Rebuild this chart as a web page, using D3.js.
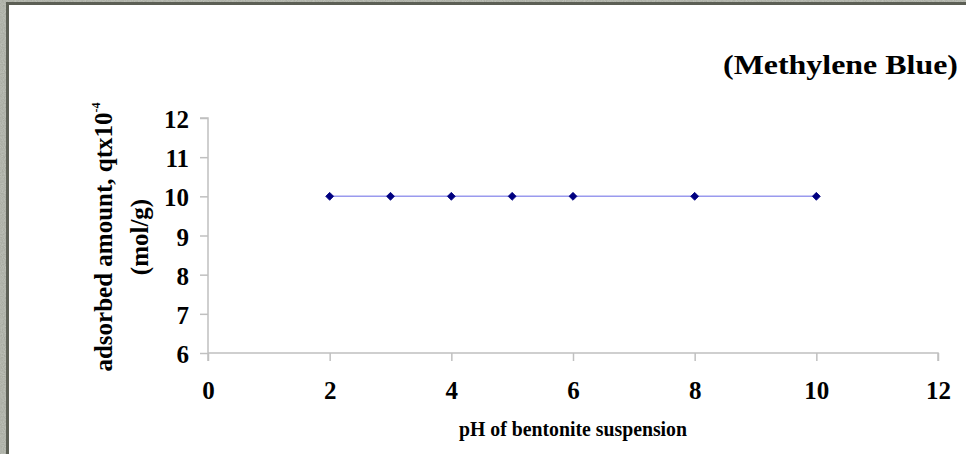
<!DOCTYPE html>
<html>
<head>
<meta charset="utf-8">
<script src="https://cdn.jsdelivr.net/npm/d3@7"></script>
<style>
  html, body { margin: 0; padding: 0; background: #8b8e82; }
  svg { display: block; }
</style>
</head>
<body>
<svg id="chart" width="966" height="454"></svg>
<script>
// pH of the bentonite suspension and the adsorbed amount of methylene blue
const phValues = [2, 3, 4, 5, 6, 8, 10];
const adsorbed = [10, 10, 10, 10, 10, 10, 10];
const xTicks = [0, 2, 4, 6, 8, 10, 12];
const yTicks = [6, 7, 8, 9, 10, 11, 12];

const svg = d3.select("#chart");
const W = 966, H = 454;
const serif = "'Liberation Serif', 'Times New Roman', serif";

// textured backdrop and white panel
const defs = svg.append("defs");
const f = defs.append("filter").attr("id", "grain").attr("x", 0).attr("y", 0).attr("width", "100%").attr("height", "100%");
f.append("feTurbulence").attr("type", "fractalNoise").attr("baseFrequency", 0.9).attr("numOctaves", 2).attr("seed", 3).attr("result", "n");
f.append("feColorMatrix").attr("in", "n").attr("type", "matrix")
  .attr("values", "0 0 0 0 0.54  0 0 0 0 0.56  0 0 0 0 0.51  0 0 0 0.6 0.4");

svg.append("rect").attr("width", W).attr("height", H).attr("fill", "#8b8e82");
svg.append("rect").attr("width", W).attr("height", H).attr("filter", "url(#grain)");
svg.append("rect").attr("x", 7.5).attr("y", 3.5).attr("width", W).attr("height", H)
  .attr("fill", "none").attr("stroke", "#5c5f55").attr("stroke-width", 3);
svg.append("rect").attr("x", 9).attr("y", 5).attr("width", W).attr("height", H).attr("fill", "#ffffff");

const x = d3.scaleLinear().domain([0, 12]).range([208, 938]);
const y = d3.scaleLinear().domain([6, 12]).range([353, 118]);
const axisColor = "#c0c0c0";

// y axis
const yAxis = svg.append("g").attr("transform", `translate(${x(0)},0)`)
  .call(d3.axisLeft(y).tickValues(yTicks).tickSize(8).tickPadding(11).tickFormat(d3.format("d")));
yAxis.select(".domain").attr("stroke", axisColor).attr("stroke-width", 1.5).attr("d", `M-8,${y(12)}H0V${y(6) + 8}`);
yAxis.selectAll(".tick line").attr("stroke", axisColor).attr("stroke-width", 1.5);
yAxis.selectAll(".tick text").attr("font-family", serif).attr("font-weight", "bold")
  .attr("font-size", 25).attr("fill", "#000").attr("dy", "0.38em");

// x axis
const xAxis = svg.append("g").attr("transform", `translate(0,${y(6)})`)
  .call(d3.axisBottom(x).tickValues(xTicks).tickSize(8).tickPadding(38).tickFormat(d3.format("d")));
xAxis.select(".domain").attr("stroke", axisColor).attr("stroke-width", 1.5).attr("d", `M${x(0)},0H${x(12)}V8`);
xAxis.selectAll(".tick line").attr("stroke", axisColor).attr("stroke-width", 1.5);
xAxis.selectAll(".tick text").attr("font-family", serif).attr("font-weight", "bold")
  .attr("font-size", 25).attr("fill", "#000").attr("dy", "0");

// series line and diamond markers
const pts = phValues.map((p, i) => [p, adsorbed[i]]);
svg.append("path").datum(pts)
  .attr("fill", "none").attr("stroke", "#9a9aee").attr("stroke-width", 1.5)
  .attr("d", d3.line().x(d => x(d[0])).y(d => y(d[1])));
svg.selectAll(".pt").data(pts).join("path").attr("class", "pt")
  .attr("transform", d => `translate(${x(d[0])},${y(d[1])})`)
  .attr("d", d3.symbol(d3.symbolDiamond2, 40))
  .attr("fill", "#000080").attr("stroke", "#000080").attr("stroke-width", 0.8);

// title
svg.append("text").attr("x", 958).attr("y", 74).attr("text-anchor", "end")
  .attr("font-family", serif).attr("font-weight", "bold").attr("font-size", 27).attr("fill", "#000")
  .attr("textLength", 235).attr("lengthAdjust", "spacingAndGlyphs")
  .text("(Methylene Blue)");

// x axis title
svg.append("text").attr("x", x(6)).attr("y", 436).attr("text-anchor", "middle")
  .attr("font-family", serif).attr("font-weight", "bold").attr("font-size", 20).attr("fill", "#000")
  .attr("textLength", 228).attr("lengthAdjust", "spacingAndGlyphs")
  .text("pH of bentonite suspension");

// y axis title, two lines
const yt = svg.append("g").attr("transform", `translate(0,237) rotate(-90)`)
  .attr("font-family", serif).attr("font-weight", "bold").attr("font-size", 25).attr("fill", "#000")
  .attr("text-anchor", "middle");
const l1 = yt.append("text").attr("x", 0).attr("y", 112);
l1.append("tspan").text("adsorbed amount, qtx10");
l1.append("tspan").attr("font-size", 12).attr("dy", -12).text("-4");
yt.append("text").attr("x", 0).attr("y", 148).text("(mol/g)");
</script>
</body>
</html>
